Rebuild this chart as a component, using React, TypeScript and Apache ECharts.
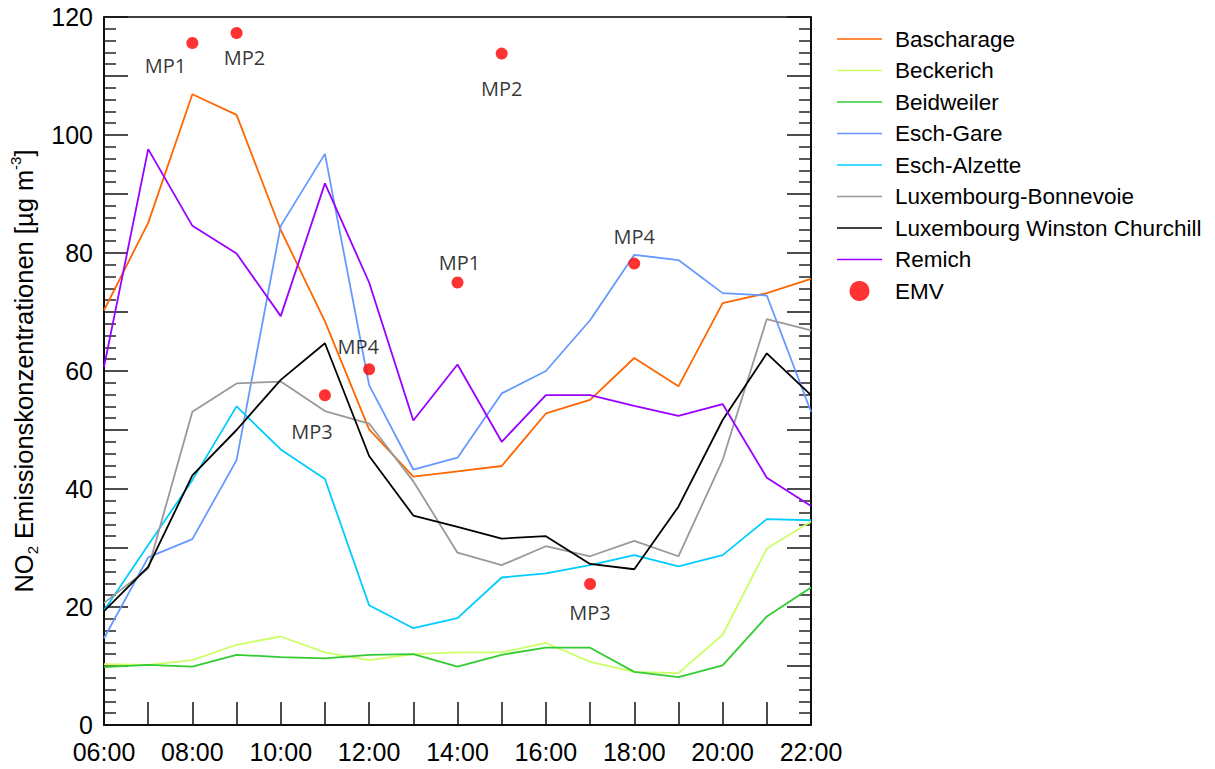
import React, { useEffect, useRef } from 'react';
import * as echarts from 'echarts';

// Hourly NO2 concentrations per measuring station (µg m-3)
const hours = [
  '06:00', '07:00', '08:00', '09:00', '10:00', '11:00', '12:00', '13:00', '14:00',
  '15:00', '16:00', '17:00', '18:00', '19:00', '20:00', '21:00', '22:00',
];

const bascharage = [70.3, 85.1, 106.9, 103.4, 83.9, 68.4, 50.1, 42.1, 43.0, 43.9, 52.8, 55.1, 62.2, 57.4, 71.5, 73.2, 75.6];
const beckerich = [10.3, 10.2, 11.0, 13.6, 15.0, 12.3, 11.0, 12.0, 12.3, 12.3, 13.9, 10.7, 9.0, 8.8, 15.3, 29.9, 34.5];
const beidweiler = [9.8, 10.2, 9.9, 11.9, 11.5, 11.3, 11.9, 12.0, 9.9, 11.9, 13.1, 13.1, 9.0, 8.1, 10.1, 18.4, 23.3];
const eschGare = [14.7, 28.4, 31.5, 44.9, 84.6, 96.8, 57.6, 43.3, 45.3, 56.2, 60.0, 68.6, 79.7, 78.8, 73.2, 72.8, 53.1];
const eschAlzette = [19.4, 30.5, 41.5, 54.0, 46.7, 41.7, 20.3, 16.4, 18.1, 25.0, 25.7, 27.1, 28.8, 26.9, 28.8, 34.9, 34.7];
const bonnevoie = [20.7, 26.5, 53.1, 57.9, 58.2, 53.2, 51.1, 41.3, 29.2, 27.1, 30.3, 28.6, 31.2, 28.6, 44.9, 68.8, 66.9];
const churchill = [19.3, 26.8, 42.3, 50.0, 58.5, 64.7, 45.6, 35.5, 33.6, 31.6, 32.0, 27.3, 26.4, 37.0, 51.7, 63.0, 55.9];
const remich = [60.7, 97.6, 84.6, 79.9, 69.3, 91.8, 75.0, 51.6, 61.1, 48.0, 55.9, 55.9, 54.1, 52.4, 54.4, 41.9, 37.1];

// Emission measurement vehicle (EMV) spot readings
const emvHours = ['08:00', '09:00', '15:00', '14:00', '18:00', '12:00', '11:00', '17:00'];
const emvValues = [115.6, 117.3, 113.8, 75.0, 78.2, 60.3, 55.9, 23.9];
const emvNames = ['MP1', 'MP2', 'MP2', 'MP1', 'MP4', 'MP4', 'MP3', 'MP3'];

// Where each EMV label sits relative to its dot
const emvLabelOffsets = [
  [-27, 23], [8, 25], [0, 35], [2, -20], [0, -27], [-11, -23], [-13, 36], [0, 29],
];

const stations = [
  { name: 'Bascharage', values: bascharage, color: '#ff6600' },
  { name: 'Beckerich', values: beckerich, color: '#ccff66' },
  { name: 'Beidweiler', values: beidweiler, color: '#33cc33' },
  { name: 'Esch-Gare', values: eschGare, color: '#6699ff' },
  { name: 'Esch-Alzette', values: eschAlzette, color: '#00ccff' },
  { name: 'Luxembourg-Bonnevoie', values: bonnevoie, color: '#999999' },
  { name: 'Luxembourg Winston Churchill', values: churchill, color: '#000000' },
  { name: 'Remich', values: remich, color: '#9900ff' },
];

const FONT = "'Liberation Sans', Arial, sans-serif";
// Thin horizontal stroke used as the legend key of each station line
const LINE_ICON = 'path://M0,0L45,0L45,1.6L0,1.6Z';

export default function App() {
  const ref = useRef<HTMLDivElement>(null);

  useEffect(() => {
    if (!ref.current) return;
    const chart = echarts.init(ref.current, undefined, { renderer: 'svg' });

    const yAxisBase = {
      type: 'value',
      min: 0,
      max: 120,
      interval: 10,
      splitLine: { show: false },
      axisLine: { show: true, lineStyle: { color: '#000', width: 1.5 } },
      axisTick: { show: true, inside: true, length: 24, lineStyle: { color: '#111', width: 1.5 } },
      minorTick: { show: true, splitNumber: 5, length: 12, lineStyle: { color: '#222', width: 1.5 } },
    };

    chart.setOption({
      animation: false,
      backgroundColor: '#fff',
      grid: {
        left: 103,
        right: 404,
        top: 17,
        bottom: 44,
        show: true,
        borderColor: '#000',
        borderWidth: 1.5,
        containLabel: false,
      },
      legend: {
        orient: 'vertical',
        left: 837,
        top: 27.5,
        padding: 0,
        itemWidth: 45,
        itemHeight: 20,
        itemGap: 8.5,
        symbolKeepAspect: true,
        textStyle: { fontSize: 22.5, fontFamily: FONT, color: '#000', padding: [0, 0, 0, 8] },
        data: [
          ...stations.map((s) => ({ name: s.name, icon: LINE_ICON })),
          { name: 'EMV', icon: 'circle' },
        ],
      },
      xAxis: {
        type: 'category',
        data: hours,
        boundaryGap: false,
        axisLine: { show: true, lineStyle: { color: '#000', width: 1.5 } },
        axisTick: { show: true, inside: true, length: 23, interval: 0, lineStyle: { color: '#111', width: 1.5 } },
        axisLabel: { interval: 1, fontSize: 25, fontFamily: FONT, color: '#000', margin: 14 },
        splitLine: { show: false },
      },
      yAxis: [
        {
          ...yAxisBase,
          position: 'left',
          axisLabel: {
            fontSize: 25,
            fontFamily: FONT,
            color: '#000',
            margin: 11,
            formatter: (v: number) => (v % 20 === 0 ? String(v) : ''),
          },
          name: '{a|NO}{sub|2}{a| Emissionskonzentrationen [µg m}{sup|-3}{a|]}',
          nameLocation: 'middle',
          nameGap: 64,
          nameTextStyle: {
            fontFamily: FONT,
            color: '#000',
            rich: {
              a: { fontSize: 25.5, fontFamily: FONT, color: '#000', lineHeight: 32, verticalAlign: 'middle' },
              sub: { fontSize: 15, fontFamily: FONT, color: '#000', lineHeight: 32, verticalAlign: 'bottom' },
              sup: { fontSize: 15, fontFamily: FONT, color: '#000', lineHeight: 32, verticalAlign: 'top' },
            },
          },
        },
        {
          ...yAxisBase,
          position: 'right',
          axisLabel: { show: false },
        },
      ],
      series: [
        ...stations.map((s) => ({
          name: s.name,
          type: 'line',
          data: s.values,
          symbol: 'none',
          color: s.color,
          lineStyle: { color: s.color, width: 1.8 },
          z: 2,
        })),
        {
          name: 'EMV',
          type: 'scatter',
          symbol: 'circle',
          symbolSize: 12,
          color: '#ff0000',
          itemStyle: { color: '#ff0000' },
          z: 4,
          data: emvValues.map((v, i) => ({
            value: [emvHours[i], v],
            label: {
              show: true,
              position: 'inside',
              offset: emvLabelOffsets[i],
              formatter: emvNames[i],
              fontSize: 20,
              fontFamily: "'Open Sans', sans-serif",
              color: '#000',
            },
          })),
        },
      ],
    });

    return () => chart.dispose();
  }, []);

  return (
    <div
      ref={ref}
      style={{ position: 'fixed', left: 0, top: 0, width: 1215, height: 769, background: '#fff' }}
    />
  );
}
